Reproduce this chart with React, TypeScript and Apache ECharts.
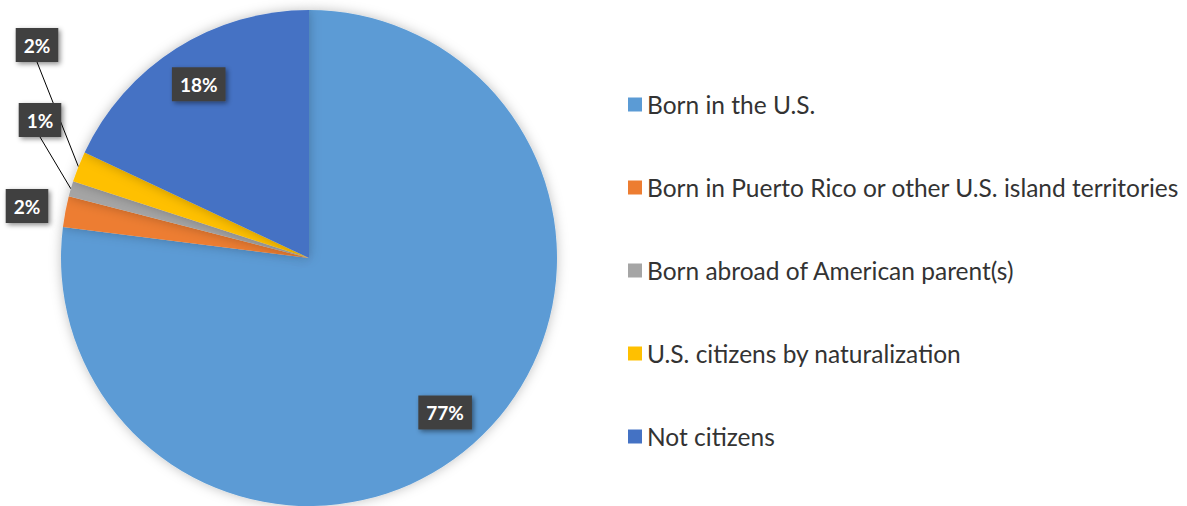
import React, { useEffect, useRef } from "react";
import * as echarts from "echarts";

const categories = [
  "Born in the U.S.",
  "Born in Puerto Rico or other U.S. island territories",
  "Born abroad of American parent(s)",
  "U.S. citizens by naturalization",
  "Not citizens",
];
const values = [77, 2, 1, 2, 18];
const colors = ["#5B9BD5", "#ED7D31", "#A5A5A5", "#FFC000", "#4472C4"];

const CX = 309;
const CY = 258;
const R = 248;
// fixed positions of the small outside labels (label layout, not data)
const outsideLabelPos: Record<number, [number, number]> = {
  1: [27, 206],
  2: [40, 120],
  3: [37, 45],
};

export default function App() {
  const ref = useRef<HTMLDivElement>(null);
  useEffect(() => {
    document.body.style.margin = "0";
    const chart = echarts.init(ref.current!, null, { renderer: "svg" });
    const total = values.reduce((a, b) => a + b, 0);
    const labelStyle = {
      color: "#ffffff",
      fontWeight: "bold" as const,
      fontSize: 19,
      fontFamily: "Lato",
      backgroundColor: "#404040",
      padding: [8, 8, 7, 8],
      shadowBlur: 5,
      shadowColor: "rgba(0,0,0,0.45)",
      shadowOffsetX: 2,
      shadowOffsetY: 2,
      formatter: (p: any) => Math.round((p.value / total) * 100) + "%",
    };
    chart.setOption({
      animation: false,
      legend: {
        orient: "vertical",
        left: 623,
        top: 87,
        itemWidth: 14,
        itemHeight: 14,
        itemGap: 58,
        icon: "rect",
        data: categories,
        textStyle: {
          fontFamily: "Lato",
          fontSize: 24.5,
          color: "#333333",
          padding: [0, 0, 0, 0],
        },
      },
      series: [
        {
          type: "pie",
          center: [CX, CY],
          radius: [0, R],
          startAngle: 90,
          clockwise: true,
          avoidLabelOverlap: false,
          itemStyle: {
            shadowBlur: 12,
            shadowColor: "rgba(0,0,0,0.25)",
          },
          emphasis: { disabled: true },
          label: { ...labelStyle, position: "outside" },
          labelLine: {
            show: true,
            length: 0,
            length2: 0,
            lineStyle: { color: "#000000", width: 1 },
          },
          labelLayout: (params: any) => {
            const i = params.dataIndex;
            if (outsideLabelPos[i]) {
              const [x, y] = outsideLabelPos[i];
              return { x, y, align: "center", verticalAlign: "middle" };
            }
            let cum = 0;
            for (let k = 0; k < i; k++) cum += values[k];
            const ang = ((cum + values[i] / 2) / total) * Math.PI * 2;
            return {
              x: CX + 0.83 * R * Math.sin(ang),
              y: CY - 0.83 * R * Math.cos(ang),
              align: "center",
              verticalAlign: "middle",
            };
          },
          data: categories.map((name, i) => ({
            name,
            value: values[i],
            itemStyle: { color: colors[i] },
            labelLine: { show: i === 2 || i === 3 },
          })),
        },
      ],
    });
    return () => chart.dispose();
  }, []);
  return <div ref={ref} style={{ width: 1187, height: 506 }} />;
}
